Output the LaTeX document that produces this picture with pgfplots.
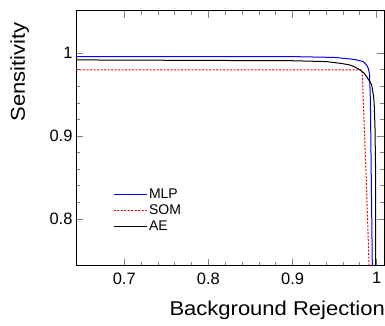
\documentclass[border=0pt]{standalone}
\usepackage{pgfplots}
\pgfplotsset{compat=1.18}
\usepackage{fontspec}
\setmainfont{Liberation Sans}
\newfontfamily\labfont[FakeStretch=1.1]{Liberation Sans}
\begin{document}
\begin{tikzpicture}
\begin{axis}[
  at={(76pt,60pt)}, anchor=south west,
  scale only axis, width=308pt, height=255.3pt,
  xmin=0.6426, xmax=1.0087, ymin=0.7433, ymax=1.0514,
  xtick={0.7,0.8,0.9,1}, ytick={0.8,0.9,1},
  minor tick num=4,
  tick align=inside,
  xtick pos=both, ytick pos=both,
  major tick length=7pt, minor tick length=4pt,
  axis line style={line width=1pt},
  major tick style={line width=0.8pt},
  minor tick style={line width=0.8pt},
  /pgf/number format/assume math mode=true,
  ticklabel style={font=\fontsize{16.5}{18}\selectfont},
  xticklabel style={yshift=-3pt},
  xlabel={\labfont\fontsize{20}{22}\selectfont Background Rejection},
  ylabel={\labfont\fontsize{20}{22}\selectfont Sensitivity},
  xlabel style={at={(rel axis cs:1.0032,-0.1958)}, anchor=base east, inner sep=0pt},
  ylabel style={at={(rel axis cs:-0.1656,0.955)}, anchor=base east, inner sep=0pt},
  legend style={draw=none, fill=none, at={(rel axis cs:0.1202,0.311)}, anchor=north west,
    inner sep=0pt, outer sep=0pt, row sep=1pt,
    font=\fontsize{14}{16}\selectfont},
  legend cell align=left,
  legend image code/.code={\draw[#1] (0pt,0pt) -- (33pt,0pt);},
]
\addplot[blue, line width=1pt] coordinates {
(0.6426,0.996) (0.90,0.996) (0.95,0.995) (0.97,0.993) (0.976,0.992) (0.984,0.990)
(0.988,0.986) (0.990,0.982) (0.9915,0.975) (0.992,0.960) (0.9925,0.944) (0.9948,0.7433)};
\addlegendentry{MLP}
\addplot[red, line width=1pt, dash pattern=on 2pt off 1.5pt] coordinates {
(0.6426,0.980) (0.982,0.980) (0.983,0.976) (0.984,0.944) (0.9875,0.850) (0.991,0.7433)};
\addlegendentry{SOM}
\addplot[black, line width=1pt] coordinates {
(0.6426,0.992) (0.90,0.991) (0.94,0.990) (0.956,0.988) (0.968,0.986) (0.975,0.983)
(0.980,0.980) (0.985,0.976) (0.988,0.972) (0.991,0.967) (0.994,0.962) (0.996,0.950)
(0.997,0.940) (0.998,0.910) (0.9988,0.850) (0.9988,0.7433)};
\addlegendentry{AE}
\end{axis}
\pgfresetboundingbox
\useasboundingbox (0,0) rectangle (385pt,326pt);
\end{tikzpicture}
\end{document}
